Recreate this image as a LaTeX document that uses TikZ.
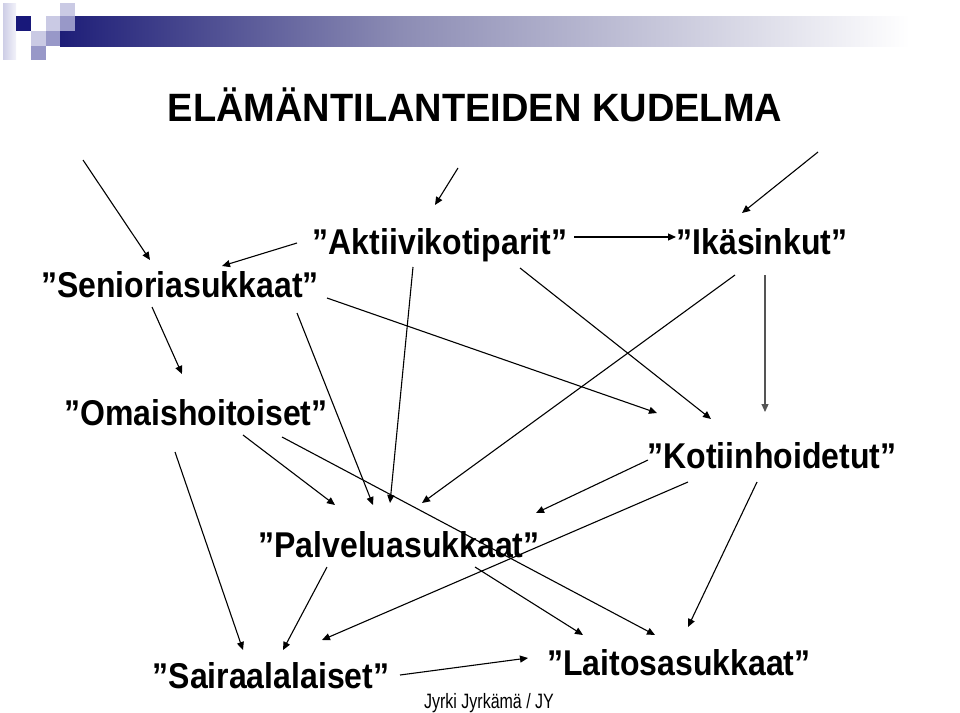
\documentclass[tikz,border=0pt]{standalone}
\usepackage{fontspec}
\usepackage{graphicx}
\setmainfont{Liberation Sans}
\usetikzlibrary{calc,arrows.meta}
\definecolor{navy}{RGB}{24,24,122}
\definecolor{barnavy}{RGB}{30,30,120}
\definecolor{barmid}{RGB}{140,140,180}
\definecolor{palelav}{RGB}{202,202,228}
\definecolor{midlav}{RGB}{152,152,200}
\definecolor{stripl}{RGB}{206,206,230}
\definecolor{stripr}{RGB}{242,242,250}
\definecolor{grayarr}{RGB}{85,85,85}
\newcommand{\tallbox}[1]{\scalebox{1}[1.12]{#1}}
\begin{document}
\begin{tikzpicture}[x=1pt,y=-1pt,
  lbl/.style={font=\fontsize{32}{36}\selectfont\bfseries, inner sep=0pt, anchor=base},
  arr/.style={-{Triangle[length=8pt,width=7pt]}, line width=1.1pt, draw=black}]
\useasboundingbox (0,0) rectangle (960,712);
\fill[white] (0,0) rectangle (960,712);
% header bar
\shade[left color=barnavy, right color=barmid] (60,16) rectangle (400,46);
\shade[left color=barmid, right color=white] (400,16) rectangle (910,46);
\fill[white] (910,16) rectangle (960,46);
% logo squares
\shade[left color=stripl, right color=stripr] (3,3) rectangle (16,59);
\fill[navy] (16,16) rectangle (31,31);
\fill[palelav] (46,16) rectangle (60,31);
\fill[palelav] (60,3) rectangle (75,16);
\fill[midlav] (60,16) rectangle (75,31);
\fill[palelav] (31,31) rectangle (46,46);
\fill[midlav] (46,31) rectangle (60,46);
\fill[midlav] (31,46) rectangle (46,60);
% title
\node[font=\fontsize{38}{44}\selectfont\bfseries, inner sep=0pt, anchor=base] (title) at (475,121) {\scalebox{1}[1.04]{ELÄMÄNTILANTEIDEN KUDELMA}};
% nodes
\node[lbl] (sen) at (180,297) {\tallbox{”Senioriasukkaat”}};
\node[lbl] (akt) at (440,254) {\tallbox{”Aktiivikotiparit”}};
\node[lbl] (ika) at (762,254) {\tallbox{”Ikäsinkut”}};
\node[lbl] (oma) at (196,425) {\tallbox{”Omaishoitoiset”}};
\node[lbl] (kot) at (772,468) {\tallbox{”Kotiinhoidetut”}};
\node[lbl] (pal) at (399,557) {\tallbox{”Palveluasukkaat”}};
\node[lbl] (sai) at (271,688) {\tallbox{”Sairaalalaiset”}};
\node[lbl] (lai) at (679,675) {\tallbox{”Laitosasukkaat”}};
\node[font=\fontsize{16}{18}\selectfont, inner sep=0pt, anchor=base] (foot) at (489,708) {\scalebox{1}[1.3]{Jyrki Jyrkämä / JY}};
% free arrow starts
\coordinate (f1) at (83,160);
\coordinate (f2) at (458,168);
\coordinate (f3) at (818,152);
\draw[arr] (f1) -- ($(sen.base)+(-30,-37)$);
\draw[arr] (f2) -- ($(akt.base)+(-5,-49)$);
\draw[arr] (f3) -- ($(ika.base)+(-20,-41)$);
% connectors
\draw[arr] ($(akt.base)+(-143,-11)$) -- ($(sen.base)+(42,-31)$);
\draw[arr] ($(akt.base)+(134,-17)$) -- ($(ika.base)+(-86,-17)$);
\draw[arr] ($(sen.base)+(-28,10)$) -- ($(oma.base)+(-14,-51)$);
\draw[arr] ($(sen.base)+(147,1)$) -- ($(kot.base)+(-115,-55)$);
\draw[arr] ($(sen.base)+(117,16)$) -- ($(pal.base)+(-26,-52)$);
\draw[arr] ($(akt.base)+(-27,13)$) -- ($(pal.base)+(-9,-54)$);
\draw[arr] ($(ika.base)+(-27,21)$) -- ($(pal.base)+(23,-54)$);
\draw[arr, draw=grayarr, -{Triangle[length=8pt,width=7pt,fill=grayarr]}] ($(ika.base)+(3,21)$) -- ($(kot.base)+(-7,-56)$);
\draw[arr] ($(akt.base)+(80,14)$) -- ($(kot.base)+(-61,-49)$);
\draw[arr] ($(kot.base)+(-124,-8)$) -- ($(pal.base)+(137,-44)$);
\draw[arr] ($(kot.base)+(-84,14)$) -- ($(sai.base)+(51,-48)$);
\draw[arr] ($(kot.base)+(-15,14)$) -- ($(lai.base)+(9,-48)$);
\draw[arr] ($(oma.base)+(86,12)$) -- ($(lai.base)+(-24,-40)$);
\draw[arr] ($(oma.base)+(47,10)$) -- ($(pal.base)+(-64,-52)$);
\draw[arr] ($(oma.base)+(-21,27)$) -- ($(sai.base)+(-28,-38)$);
\draw[arr] ($(pal.base)+(-72,10)$) -- ($(sai.base)+(12,-38)$);
\draw[arr] ($(pal.base)+(76,10)$) -- ($(lai.base)+(-96,-40)$);
\draw[arr] ($(sai.base)+(129,-13)$) -- ($(lai.base)+(-151,-17)$);
\end{tikzpicture}
\end{document}
